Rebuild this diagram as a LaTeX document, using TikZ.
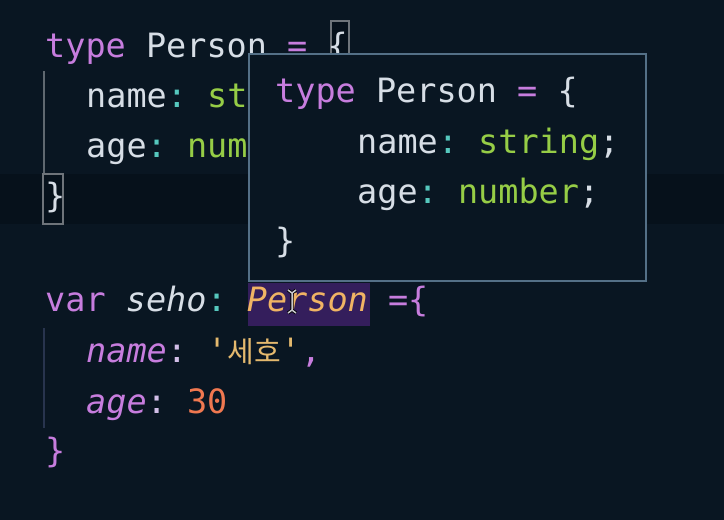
\documentclass[tikz,border=0pt]{standalone}
\usepackage{fontspec}
\setmonofont{DejaVu Sans Mono}
\newfontfamily\hangul{Noto Sans CJK KR}
\definecolor{editorbg}{RGB}{9,22,34}
\definecolor{curline}{RGB}{6,17,27}
\definecolor{kw}{RGB}{199,125,222}
\definecolor{fg}{RGB}{215,222,230}
\definecolor{punct}{RGB}{86,200,190}
\definecolor{typegreen}{RGB}{150,205,70}
\definecolor{typeorange}{RGB}{240,180,100}
\definecolor{strcol}{RGB}{228,185,110}
\definecolor{numcol}{RGB}{240,120,80}
\definecolor{lav}{RGB}{210,190,232}
\definecolor{hoverhl}{RGB}{52,30,92}
\definecolor{tipborder}{RGB}{84,112,135}
\definecolor{matchgray}{RGB}{110,116,122}
\definecolor{guidegray}{RGB}{95,104,112}
\definecolor{guideblue}{RGB}{40,52,78}
\definecolor{beamgray}{RGB}{200,200,205}
\begin{document}
\begin{tikzpicture}[x=1pt,y=-1pt,
  code/.style={anchor=base west,inner sep=0pt,font=\ttfamily\fontsize{33.5}{40}\selectfont},
  matchbox/.style={draw=matchgray,line width=1.5pt,fill=curline},
  tip/.style={draw=tipborder,line width=2pt,fill=editorbg}]
\useasboundingbox[fill=editorbg] (0,0) rectangle (724,520);
\fill[curline] (0,174) rectangle (724,224);

% bracket match
\draw[matchbox] (340,40.5) +(-9,-19.5) rectangle ++(9,19.5);
\draw[matchbox] (53,199) +(-10,-25) rectangle ++(10,25);
\draw[guidegray,line width=1.5pt] (44,71) -- (44,173);
\draw[guideblue,line width=1.5pt] (44,328) -- (44,428);

% type declaration
\draw (45,57) node[code] (typeline) {\textcolor{kw}{type} \textcolor{fg}{Person} \textcolor{kw}{=} \textcolor{fg}{\{}};
\draw (86,107) node[code] (nameline) {\textcolor{fg}{name}\textcolor{punct}{:} \textcolor{typegreen}{st}};
\draw (86,157) node[code] (ageline) {\textcolor{fg}{age}\textcolor{punct}{:} \textcolor{typegreen}{num}};
\draw (45,207) node[code] (closeline) {\textcolor{fg}{\}}};

% hover tooltip
\draw[tip] (447.5,167.5) +(-198.5,-113.5) rectangle ++(198.5,113.5);
\draw (275,102) node[code] (tiptype) {\textcolor{kw}{type} \textcolor{fg}{Person} \textcolor{kw}{=} \textcolor{fg}{\{}};
\draw (357,153) node[code] (tipname) {\textcolor{fg}{name}\textcolor{punct}{:} \textcolor{typegreen}{string}\textcolor{fg}{;}};
\draw (357,203) node[code] (tipage) {\textcolor{fg}{age}\textcolor{punct}{:} \textcolor{typegreen}{number}\textcolor{fg}{;}};
\draw (275,252) node[code] (tipclose) {\textcolor{fg}{\}}};

% variable
\fill[hoverhl] (309,304.5) +(-61,-21.5) rectangle ++(61,21.5);
\draw (45,311) node[code] (varline) {\textcolor{kw}{var} \textcolor{fg}{\itshape seho}\textcolor{punct}{:} \textcolor{typeorange}{\itshape Person} \textcolor{kw}{=\{}};
\draw (86,362) node[code] (sehoname) {\textcolor{kw}{\itshape name}\textcolor{lav}{:} \textcolor{strcol}{'{\hangul\fontsize{29}{36}\selectfont 세호}'}\textcolor{kw}{,}};
\draw (86,413) node[code] (sehoage) {\textcolor{kw}{\itshape age}\textcolor{lav}{:} \textcolor{numcol}{30}};
\draw (45,462) node[code] (varclose) {\textcolor{kw}{\}}};

% text cursor
\foreach \w/\c in {3.2/black,1.5/beamgray}
  \draw[line width=\w pt,\c] (288,290) -- (292,293) -- (296,290) (292,293) -- (292,310) (288,313) -- (292,310) -- (296,313);
\end{tikzpicture}
\end{document}
